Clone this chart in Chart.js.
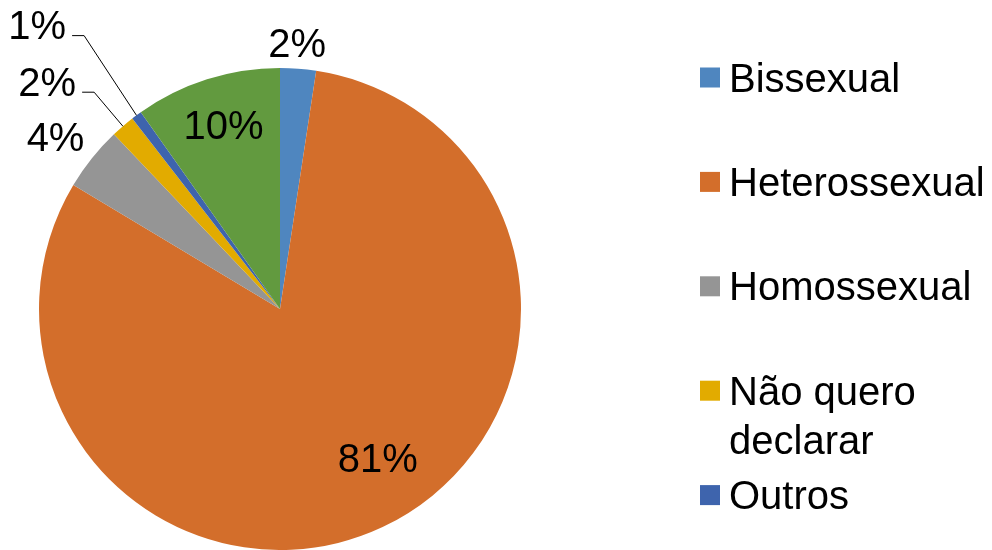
<!DOCTYPE html>
<html>
<head>
<meta charset="utf-8">
<script src="https://cdn.jsdelivr.net/npm/chart.js@4/dist/chart.umd.min.js"></script>
<style>
  html, body { margin: 0; padding: 0; background: #fff; }
  #wrap { width: 992px; height: 550px; }
</style>
</head>
<body>
<div id="wrap"><canvas id="pie" width="992" height="550"></canvas></div>
<script>
// categories (the last one is cut off from the legend in the original)
const categories = ['Bissexual', 'Heterossexual', 'Homossexual', 'Não quero declarar', 'Outros', ''];
const shares = [2.4, 81.2, 4.3, 1.6, 0.7, 9.8];
const sliceColors = ['#4F86BF', '#D36E2B', '#959595', '#E2AB00', '#3E64AD', '#629A3F'];
const legendCount = 5;

// label placement: radius factor, angle nudge (deg), leader line
const labelRadius = [1.105, 0.741, 1.174, 1.35, 1.55, 0.80];
const labelNudge = [-0.6, -8, -1.2, -5, -4, 0.6];
const labelLeader = [false, false, false, true, true, false];

const FONT = '40px "Liberation Sans", Arial, sans-serif';

const labelPlugin = {
  id: 'pctLabels',
  afterDatasetsDraw(chart) {
    const ctx = chart.ctx;
    const meta = chart.getDatasetMeta(0);
    const total = shares.reduce((a, b) => a + b, 0);
    ctx.save();
    ctx.font = FONT;
    ctx.fillStyle = '#000';
    ctx.textAlign = 'center';
    ctx.textBaseline = 'alphabetic';
    meta.data.forEach((arc, i) => {
      const p = arc.getProps(['x', 'y', 'startAngle', 'endAngle', 'outerRadius'], true);
      const mid = (p.startAngle + p.endAngle) / 2;
      const a = mid + labelNudge[i] * Math.PI / 180;
      const lx = p.x + Math.cos(a) * p.outerRadius * labelRadius[i];
      const ly = p.y + Math.sin(a) * p.outerRadius * labelRadius[i];
      const txt = Math.round(shares[i] / total * 100) + '%';
      ctx.fillText(txt, lx, ly + 14);
      if (labelLeader[i]) {
        const w = ctx.measureText(txt).width;
        const sx = lx + w / 2 + 6;
        const sy = ly + 10;
        const ex = p.x + Math.cos(mid) * p.outerRadius;
        const ey = p.y + Math.sin(mid) * p.outerRadius;
        ctx.beginPath();
        ctx.strokeStyle = '#000';
        ctx.lineWidth = 1;
        ctx.moveTo(sx, sy + 0.5);
        ctx.lineTo(sx + 12, sy + 0.5);
        ctx.lineTo(ex, ey);
        ctx.stroke();
      }
    });
    ctx.restore();
  }
};

const legendPlugin = {
  id: 'sideLegend',
  afterDraw(chart) {
    const ctx = chart.ctx;
    const boxX = 700, box = 20, textX = 729, top = 77.5, step = 104.4, maxW = 258, lineH = 49;
    ctx.save();
    ctx.font = FONT;
    ctx.textAlign = 'left';
    ctx.textBaseline = 'alphabetic';
    for (let i = 0; i < legendCount; i++) {
      const cy = top + i * step;
      ctx.fillStyle = sliceColors[i];
      ctx.fillRect(boxX, cy - box / 2, box, box);
      // simple word wrap
      const words = categories[i].split(' ');
      const lines = [];
      let line = '';
      words.forEach(w => {
        const test = line ? line + ' ' + w : w;
        if (ctx.measureText(test).width > maxW && line) {
          lines.push(line);
          line = w;
        } else {
          line = test;
        }
      });
      lines.push(line);
      ctx.fillStyle = '#000';
      lines.forEach((l, k) => ctx.fillText(l, textX, cy + 14 + k * lineH));
    }
    ctx.restore();
  }
};

new Chart(document.getElementById('pie'), {
  type: 'pie',
  data: {
    labels: categories,
    datasets: [{
      data: shares,
      backgroundColor: sliceColors,
      borderWidth: 0,
      offset: 0,
      hoverOffset: 0
    }]
  },
  options: {
    responsive: false,
    animation: false,
    events: [],
    layout: { padding: { left: 39, right: 471, top: 68, bottom: 0 } },
    plugins: {
      legend: { display: false },
      tooltip: { enabled: false }
    }
  },
  plugins: [labelPlugin, legendPlugin]
});
</script>
</body>
</html>
